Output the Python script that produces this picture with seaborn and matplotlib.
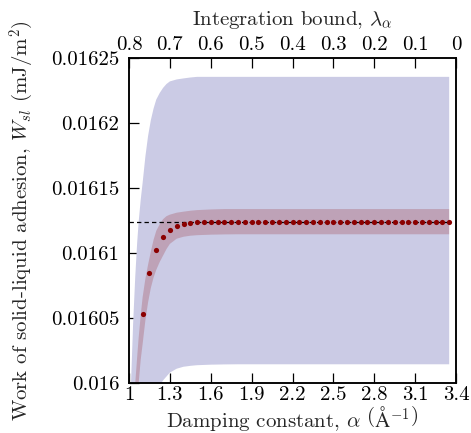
import numpy as np
import matplotlib
matplotlib.use('Agg')
import matplotlib.pyplot as plt
import seaborn as sns
import pandas as pd

# data
alpha_pts = [1.10, 1.15, 1.20, 1.25, 1.30, 1.35, 1.40, 1.45, 1.50, 1.55,
             1.60, 1.65, 1.70, 1.75, 1.80, 1.85, 1.90, 1.95, 2.00, 2.05,
             2.10, 2.15, 2.20, 2.25, 2.30, 2.35, 2.40, 2.45, 2.50, 2.55,
             2.60, 2.65, 2.70, 2.75, 2.80, 2.85, 2.90, 2.95, 3.00, 3.05,
             3.10, 3.15, 3.20, 3.25, 3.30, 3.35]
w_pts = [0.0160531, 0.0160846, 0.0161023, 0.0161123, 0.0161177, 0.0161205,
         0.0161221, 0.0161231, 0.0161236, 0.0161239, 0.016124, 0.016124,
         0.016124, 0.016124, 0.016124, 0.016124, 0.016124, 0.016124,
         0.016124, 0.016124, 0.016124, 0.016124, 0.016124, 0.016124,
         0.016124, 0.016124, 0.016124, 0.016124, 0.016124, 0.016124,
         0.016124, 0.016124, 0.016124, 0.016124, 0.016124, 0.016124,
         0.016124, 0.016124, 0.016124, 0.016124, 0.016124, 0.016124,
         0.016124, 0.016124, 0.016124, 0.016124]

w_ref = 0.016124

# band edges
alpha_band = [1.00, 1.015, 1.03, 1.046, 1.06, 1.071, 1.086, 1.10, 1.12, 1.14,
              1.16, 1.18, 1.20, 1.225, 1.25, 1.275, 1.30, 1.35, 1.40, 1.45,
              1.50, 1.60, 1.70, 1.80, 2.00, 2.50, 3.00, 3.35]
outer_hi = [0.015940, 0.016000, 0.016045, 0.016082, 0.016108, 0.016124,
            0.016141, 0.016154, 0.016174, 0.016190, 0.016202, 0.016211,
            0.016218, 0.016223, 0.016227, 0.016230, 0.016232, 0.0162335,
            0.0162343, 0.016235, 0.0162355, 0.0162355, 0.0162355, 0.0162355,
            0.0162355, 0.0162355, 0.0162355, 0.0162355]
outer_lo = [0.015718, 0.015778, 0.015823, 0.015860, 0.015886, 0.015902,
            0.015919, 0.015932, 0.015952, 0.015968, 0.015980, 0.015989,
            0.015994, 0.015998, 0.016002, 0.016005, 0.016008, 0.016011,
            0.0160125, 0.0160132, 0.0160137, 0.0160141, 0.0160143, 0.0160144,
            0.0160144, 0.0160144, 0.0160144, 0.0160144]
inner_hi = [0.015880, 0.015920, 0.015960, 0.016000, 0.016020, 0.016035,
            0.016052, 0.016066, 0.016080, 0.016091, 0.016101, 0.016110,
            0.016117, 0.016122, 0.016126, 0.0161283, 0.0161295, 0.016131,
            0.0161318, 0.0161325, 0.016133, 0.0161335, 0.0161338, 0.0161338,
            0.0161338, 0.0161338, 0.0161338, 0.0161338]
inner_lo = [0.015800, 0.015850, 0.015900, 0.015950, 0.015980, 0.016000,
            0.016018, 0.016030, 0.016048, 0.016062, 0.016073, 0.016081,
            0.016087, 0.016093, 0.016098, 0.016103, 0.016107, 0.016111,
            0.0161125, 0.0161133, 0.0161137, 0.0161141, 0.0161143, 0.0161144,
            0.0161144, 0.0161144, 0.0161144, 0.0161144]

x_ticks = [1, 1.3, 1.6, 1.9, 2.2, 2.5, 2.8, 3.1, 3.4]
x_labels = ['1', '1.3', '1.6', '1.9', '2.2', '2.5', '2.8', '3.1', '3.4']
top_labels = ['0.8', '0.7', '0.6', '0.5', '0.4', '0.3', '0.2', '0.1', '0']
y_ticks = [0.016, 0.01605, 0.0161, 0.01615, 0.0162, 0.01625]
y_labels = ['0.016', '0.01605', '0.0161', '0.01615', '0.0162', '0.01625']

sns.set_theme(style="ticks")
plt.rcParams['font.family'] = 'serif'
plt.rcParams['font.serif'] = ['cmr10']
plt.rcParams['mathtext.fontset'] = 'cm'
plt.rcParams['axes.unicode_minus'] = False

df = pd.DataFrame({'alpha': alpha_pts, 'W': w_pts})

fig = plt.figure(figsize=(4.71, 4.33), dpi=100)
ax = fig.add_axes([129 / 471, 50 / 433, 327 / 471, 325 / 433])

ax.fill_between(alpha_band, outer_lo, outer_hi, color='#cbcbe5', linewidth=0)
ax.fill_between(alpha_band, inner_lo, inner_hi, color='darkred', alpha=0.2, linewidth=0)
ax.hlines(w_ref, 1.0, 3.35, colors='black', linewidth=0.9, linestyles=(0, (3.5, 2.5)))
sns.scatterplot(data=df, x='alpha', y='W', color='darkred', s=14, linewidth=0, ax=ax, zorder=5)

ax.set_xlim(1, 3.4)
ax.set_ylim(0.016, 0.01625)
ax.set_xticks(x_ticks)
ax.set_xticklabels(x_labels)
ax.set_yticks(y_ticks)
ax.set_yticklabels(y_labels)
ax.tick_params(axis='both', direction='in', length=7, width=0.9, labelsize=15, colors='black')
ax.tick_params(axis='x', pad=2.5)
ax.tick_params(axis='y', pad=7)
for s in ax.spines.values():
    s.set_linewidth(1.1)
    s.set_color('black')

ax.set_xlabel(r'Damping constant, $\alpha$ $\left(\mathrm{\AA}^{-1}\right)$', fontsize=15)
ax.set_ylabel(r'Work of solid-liquid adhesion, $W_{sl}$ (mJ/m$^2$)', fontsize=15)
ax.xaxis.set_label_coords(0.5, -0.066)
ax.yaxis.set_label_coords(-0.285, 0.5)

ax2 = ax.twiny()
ax2.set_xlim(ax.get_xlim())
ax2.set_xticks(x_ticks)
ax2.set_xticklabels(top_labels)
ax2.tick_params(axis='x', direction='in', length=7, width=0.9, labelsize=15, pad=3, colors='black')
ax2.set_xlabel(r'Integration bound, $\lambda_\alpha$', fontsize=15)
ax2.xaxis.set_label_coords(0.5, 1.1)
for s in ax2.spines.values():
    s.set_linewidth(1.1)
    s.set_color('black')

plt.savefig('out.png', dpi=100)
plt.close()
